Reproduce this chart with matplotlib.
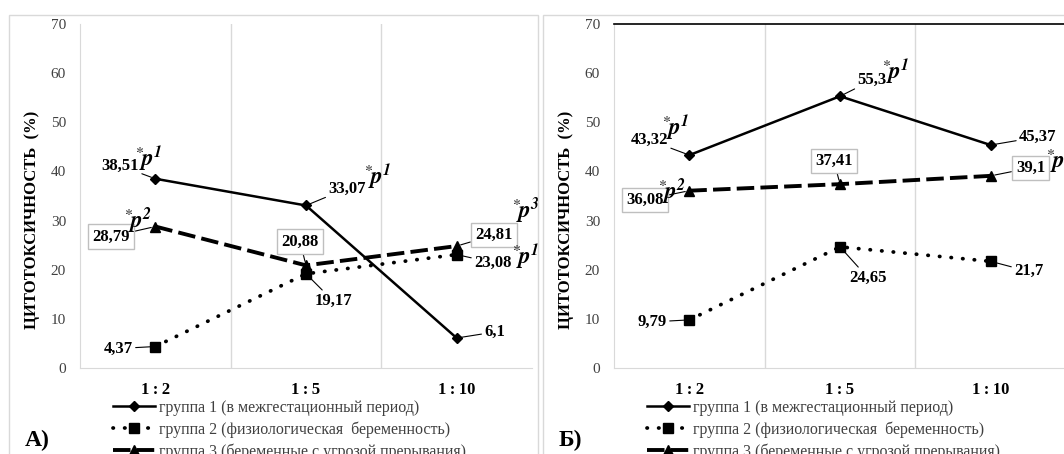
import numpy as np
import matplotlib.pyplot as plt
from matplotlib.patches import Rectangle
from matplotlib.text import Text

plt.rcParams['font.family'] = ['Liberation Serif', 'DejaVu Serif']
plt.rcParams['mathtext.fontset'] = 'stix'

categories = ['1:2', '1:5', '1:10']
series_names = ['группа 1 (в межгестационный период)',
                'группа 2 (физиологическая  беременность)',
                'группа 3 (беременные с угрозой прерывания)']

# panel А
a_g1 = [38.51, 33.07, 6.1]
a_g2 = [4.37, 19.17, 23.08]
a_g3 = [28.79, 20.88, 24.81]
a_sig = [['1', '1', None], [None, None, '1'], ['2', None, '3']]

# panel Б
b_g1 = [43.32, 55.3, 45.37]
b_g2 = [9.79, 24.65, 21.7]
b_g3 = [36.08, 37.41, 39.1]
b_sig = [['1', '1', None], [None, None, None], ['2', None, '3']]

# label offsets (pixels) from the point, and shift of the *p mark
a_off = [[(-35, 13), (41, 17), (38, 6)],
         [(-37, -2), (27, -27), (36, -8)],
         [(-44, -10), (-6, 24), (37, 11)]]
a_lift = [[(-4, 1), (-2, 5), None], [None, None, (1, 0)], [(-6, 10), None, (0, 18)]]
b_off = [[(-40, 15), (32, 16), (47, 8)],
         [(-37, -2), (28, -31), (38, -10)],
         [(-44, -9), (-6, 23), (40, 8)]]
b_lift = [[(-6, 6), (-5, 2), None], [None, None, None], [(-6, 2), None, (1, 1)]]

W, H = 1064, 454
fig = plt.figure(figsize=(W / 100, H / 100), dpi=100)

styles = [dict(color='black', lw=1.8, ls='-', marker='D', ms=5.5),
          dict(color='black', lw=2.7, ls=(0, (0.1, 3.0)), dash_capstyle='round',
               marker='s', ms=6.5),
          dict(color='black', lw=2.8, ls=(0, (4.5, 1.6)), marker='^', ms=7.5)]


def text_box(an):
    # extent of the label text only (without its leader line)
    return lambda renderer: Text.get_window_extent(an, renderer)


def draw_panel(x0, g1, g2, g3, sig, off, lift, letter, top_line):
    # panel frame
    fig.add_artist(Rectangle(((x0 + 9) / W, -0.1), 529 / W, 1.1 - 15 / H,
                             transform=fig.transFigure, fill=False,
                             ec='#d9d9d9', lw=1))
    ax = fig.add_axes([(x0 + 80) / W, 1 - 368 / H, 452 / W, 344 / H])
    x = np.arange(len(categories))
    for vals, name, st in zip([g1, g2, g3], series_names, styles):
        ax.plot(x, vals, label=name, clip_on=False, **st)

    for i, vals in enumerate([g1, g2, g3]):
        for j, v in enumerate(vals):
            txt = f'{v:g}'.replace('.', ',')
            bbox = None
            if i == 2:
                bbox = dict(boxstyle='square,pad=0.25', fc='white', ec='#bfbfbf', lw=1)
            an = ax.annotate(txt, (x[j], v), xytext=off[i][j], textcoords='offset pixels',
                             ha='center', va='center', fontsize=12, fontweight='bold',
                             bbox=bbox, zorder=5,
                             arrowprops=dict(arrowstyle='-', lw=0.8, color='black',
                                             shrinkA=0, shrinkB=3))
            if sig[i][j]:
                ax.annotate(r'${}^{*}\!\mathbfit{p}^{\mathbfit{%s}}$' % sig[i][j],
                            xy=(1, 0), xycoords=text_box(an), xytext=lift[i][j],
                            textcoords='offset pixels', ha='left', va='bottom',
                            fontsize=16.5, zorder=6)

    ax.set_xlim(-0.5, 2.5)
    ax.set_ylim(0, 70)
    ax.set_yticks(range(0, 71, 10))
    ax.set_xticks(x)
    ax.set_xticklabels([c.replace(':', '\u2009:\u2009') for c in categories],
                       fontsize=12, fontweight='bold')
    ax.set_xticks([0.5, 1.5], minor=True)
    ax.grid(axis='x', which='minor', color='#d9d9d9', lw=1)
    ax.tick_params(axis='x', which='both', length=0, pad=10)
    ax.tick_params(axis='y', length=0, pad=10, labelsize=11, labelcolor='#404040')
    for s in ['left', 'bottom']:
        ax.spines[s].set_color('#d9d9d9')
    ax.spines['right'].set_visible(False)
    if top_line:
        ax.spines['top'].set_color('black')
        ax.spines['top'].set_linewidth(1.2)
    else:
        ax.spines['top'].set_visible(False)

    ax.set_ylabel('ЦИТОТОКСИЧНОСТЬ  (%)', fontsize=12, fontweight='bold')
    ax.yaxis.label.set_va('center')
    ax.yaxis.set_label_coords((32 - 80) / 452, (368 - 220) / 344)

    leg = ax.legend(loc='upper left', bbox_to_anchor=((x0 + 113) / W, 1 - 400 / H),
                    bbox_transform=fig.transFigure, frameon=False, fontsize=11.5,
                    handlelength=2.6, handletextpad=0.3, labelspacing=0.33,
                    borderpad=0, borderaxespad=0, numpoints=1)
    for t in leg.get_texts():
        t.set_color('#404040')

    fig.text((x0 + 25) / W, 1 - 440 / H, letter, fontsize=17, fontweight='bold',
             ha='left', va='center')
    return ax


draw_panel(0, a_g1, a_g2, a_g3, a_sig, a_off, a_lift, 'А)', False)
draw_panel(534, b_g1, b_g2, b_g3, b_sig, b_off, b_lift, 'Б)', True)

fig.savefig('out.png', dpi=100)
